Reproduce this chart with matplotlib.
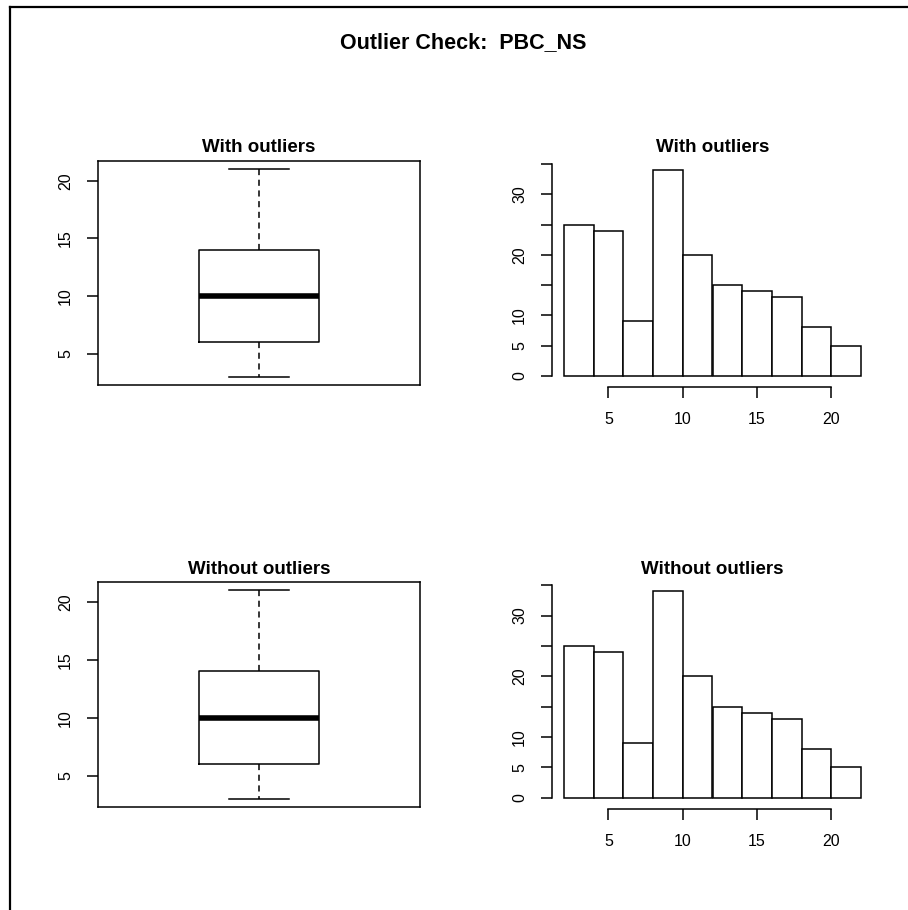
import matplotlib
matplotlib.use("Agg")
import matplotlib.pyplot as plt
from matplotlib.lines import Line2D
import numpy as np

plt.rcParams['font.family'] = ['Liberation Sans', 'DejaVu Sans']

# data
main_title = "Outlier Check:  PBC_NS"
row_titles = ["With outliers", "Without outliers"]

# boxplot summary (same for both rows)
box_stats = {"whislo": 3, "q1": 6, "med": 10, "q3": 14, "whishi": 21}

# histogram bins and counts (same for both rows)
bin_edges = [2, 4, 6, 8, 10, 12, 14, 16, 18, 20, 22]
counts = [25, 24, 9, 34, 20, 15, 14, 13, 8, 5]

box_yticks = [5, 10, 15, 20]
hist_yticks = [0, 5, 10, 15, 20, 25, 30, 35]
hist_ylabels = ["0", "5", "10", "", "20", "", "30", ""]
hist_xticks = [5, 10, 15, 20]

W, H = 908, 910
fig = plt.figure(figsize=(W / 100, H / 100), dpi=100)
fig.patch.set_facecolor("white")

lw = 1.1
fs = 11.5

def px_box(x0, y0, x1, y1):
    return [x0 / W, 1 - y1 / H, (x1 - x0) / W, (y1 - y0) / H]

rows_y = [(161, 385), (582, 807)]

for r in range(2):
    y0, y1 = rows_y[r]

    # ---- boxplot
    ax = fig.add_axes(px_box(98, y0, 420, y1))
    stats = dict(box_stats)
    ax.bxp([stats], positions=[1], widths=0.4, capwidths=0.2,
           showfliers=False, patch_artist=False,
           boxprops=dict(color="black", linewidth=lw),
           medianprops=dict(color="black", linewidth=4),
           whiskerprops=dict(color="black", linewidth=lw, linestyle=(0, (4, 3))),
           capprops=dict(color="black", linewidth=lw))
    lo, hi = box_stats["whislo"], box_stats["whishi"]
    pad = (hi - lo) * 0.04
    ax.set_ylim(lo - pad, hi + pad)
    ax.set_xlim(0.46, 1.54)
    ax.set_xticks([])
    ax.set_yticks(box_yticks)
    ax.set_yticklabels([str(t) for t in box_yticks], rotation=90, va="center")
    ax.tick_params(axis="y", length=8, width=lw, pad=10, labelsize=fs)
    for s in ax.spines.values():
        s.set_linewidth(lw)
    fig.text((98 + 420) / 2 / W, 1 - (y0 - 13) / H, row_titles[r],
             ha="center", va="center", fontsize=13.5, fontweight="bold")

    # ---- histogram
    ax2 = fig.add_axes(px_box(552, y0 + 1, 873, y1 - 1))
    edges = np.array(bin_edges)
    ax2.bar(edges[:-1], counts, width=np.diff(edges), align="edge",
            facecolor="white", edgecolor="black", linewidth=lw)
    xr = edges[-1] - edges[0]
    ax2.set_xlim(edges[0] - 0.04 * xr, edges[-1] + 0.04 * xr)
    ymax = max(counts)
    ax2.set_ylim(-0.04 * ymax, ymax * 1.04)
    ax2.spines["top"].set_visible(False)
    ax2.spines["right"].set_visible(False)
    ax2.spines["left"].set_bounds(hist_yticks[0], hist_yticks[-1])
    ax2.spines["bottom"].set_bounds(hist_xticks[0], hist_xticks[-1])
    ax2.spines["bottom"].set_position(("outward", 2))
    for s in ax2.spines.values():
        s.set_linewidth(lw)
    ax2.set_yticks(hist_yticks)
    ax2.set_yticklabels(hist_ylabels, rotation=90, va="center")
    ax2.set_xticks(hist_xticks)
    ax2.set_xticklabels([str(t) for t in hist_xticks])
    ax2.tick_params(axis="both", length=8, width=lw, pad=10, labelsize=fs)
    fig.text((552 + 873) / 2 / W, 1 - (y0 - 13) / H, row_titles[r],
             ha="center", va="center", fontsize=13.5, fontweight="bold")

fig.text(463 / W, 1 - 43 / H, main_title, ha="center", va="center",
         fontsize=15.5, fontweight="bold")

# outer frame lines (left and top)
fig.add_artist(Line2D([10 / W, 10 / W], [0, 1 - 7 / H], color="black",
                      linewidth=1.6, transform=fig.transFigure))
fig.add_artist(Line2D([10 / W, 1], [1 - 7 / H, 1 - 7 / H], color="black",
                      linewidth=1.6, transform=fig.transFigure))

fig.savefig("out.png", dpi=100)
